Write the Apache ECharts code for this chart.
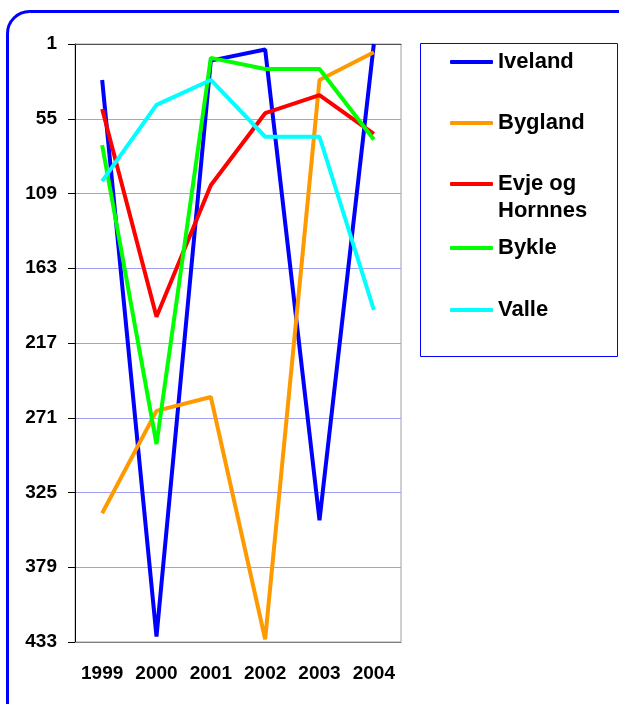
<!DOCTYPE html>
<html>
<head>
<meta charset="utf-8">
<script src="https://cdn.jsdelivr.net/npm/echarts@6/dist/echarts.min.js"></script>
<style>
  html, body { margin: 0; padding: 0; background: #fff; }
  #chart { width: 619px; height: 704px; }
</style>
</head>
<body>
<div id="chart"></div>
<script>
const years = ['1999', '2000', '2001', '2002', '2003', '2004'];
const yTicks = [1, 55, 109, 163, 217, 271, 325, 379, 433];

const iveland = [27, 429, 13, 5, 345, 1];
const bygland = [340, 266, 256, 431, 27, 7];
const evjeOgHornnes = [48, 198, 103, 51, 38, 66];
const bykle = [74, 290, 11, 19, 19, 70];
const valle = [100, 45, 27, 68, 68, 193];

const seriesNames = ['Iveland', 'Bygland', 'Evje og\nHornnes', 'Bykle', 'Valle'];
const seriesData = [iveland, bygland, evjeOgHornnes, bykle, valle];
const colors = ['#0000ff', '#ff9900', '#ff0000', '#00ff00', '#00ffff'];
// icon centre of each legend row
const legendRows = [62, 123, 184, 248, 310];

const font = '"Liberation Sans", Arial, sans-serif';
const el = document.getElementById('chart');
const chart = echarts.init(el);

const legends = seriesNames.map((name, i) => {
  const twoLines = name.indexOf('\n') >= 0;
  return {
    data: [name],
    left: 450,
    top: legendRows[i] - (twoLines ? 40.5 : 13.5),
    padding: 0,
    icon: 'roundRect',
    itemWidth: 43,
    itemHeight: 4,
    itemGap: 0,
    selectedMode: false,
    // empty first line keeps the icon level with "Evje og"
    formatter: twoLines ? '\n{name}' : '{name}',
    textStyle: {
      fontFamily: font,
      fontWeight: 'bold',
      fontSize: 22,
      color: '#000',
      lineHeight: 27
    }
  };
});

const option = {
  backgroundColor: '#fff',
  animation: false,
  color: colors,
  graphic: [
    {
      type: 'rect',
      shape: { x: 7.5, y: 11.5, width: 700, height: 800, r: 22 },
      style: { fill: 'none', stroke: '#0000ff', lineWidth: 3 },
      silent: true
    },
    {
      type: 'rect',
      shape: { x: 420.5, y: 43.5, width: 197, height: 313 },
      style: { fill: 'none', stroke: '#0000ff', lineWidth: 1 },
      silent: true
    }
  ],
  legend: legends,
  grid: {
    left: 75, top: 44, right: 218, bottom: 62,
    show: true, borderColor: '#a0a0a0', borderWidth: 1
  },
  xAxis: [
    {
      type: 'category',
      data: years,
      boundaryGap: true,
      axisLine: { lineStyle: { color: '#808080', width: 1 } },
      axisTick: { show: false },
      axisLabel: {
        interval: 0,
        color: '#000', fontFamily: font, fontWeight: 'bold', fontSize: 19, margin: 22
      }
    },
    {
      type: 'category',
      data: years,
      position: 'top',
      axisLine: { lineStyle: { color: '#505050', width: 1 } },
      axisTick: { show: false },
      axisLabel: { show: false }
    }
  ],
  yAxis: {
    type: 'value',
    inverse: true,
    min: yTicks[0],
    max: yTicks[yTicks.length - 1],
    interval: yTicks[1] - yTicks[0],
    axisLine: { show: true, lineStyle: { color: '#000', width: 1 } },
    axisTick: { show: true, length: 7, lineStyle: { color: '#000' } },
    axisLabel: {
      color: '#000', fontFamily: font, fontWeight: 'bold', fontSize: 19, margin: 18
    },
    splitLine: { show: true, lineStyle: { color: '#a0a0f0', width: 1 } }
  },
  series: seriesNames.map((name, i) => ({
    name: name,
    type: 'line',
    data: seriesData[i],
    symbol: 'none',
    lineStyle: { width: 4, color: colors[i] },
    itemStyle: { color: colors[i] }
  }))
};

chart.setOption(option);
window.onresize = () => chart.resize();
</script>
</body>
</html>
